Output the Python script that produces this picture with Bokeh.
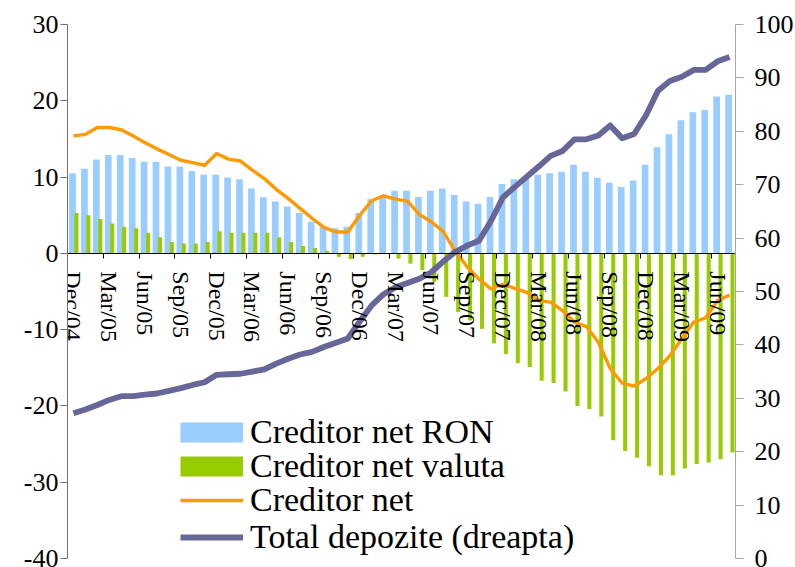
from bokeh.plotting import figure
from bokeh.models import Range1d, LinearAxis, FixedTicker, ColumnDataSource, Legend, LegendItem
from bokeh.transform import dodge
from bokeh.embed import file_html
from bokeh.resources import INLINE

months = ["Dec/04",
          "Jan/05", "Feb/05", "Mar/05", "Apr/05", "May/05", "Jun/05",
          "Jul/05", "Aug/05", "Sep/05", "Oct/05", "Nov/05", "Dec/05",
          "Jan/06", "Feb/06", "Mar/06", "Apr/06", "May/06", "Jun/06",
          "Jul/06", "Aug/06", "Sep/06", "Oct/06", "Nov/06", "Dec/06",
          "Jan/07", "Feb/07", "Mar/07", "Apr/07", "May/07", "Jun/07",
          "Jul/07", "Aug/07", "Sep/07", "Oct/07", "Nov/07", "Dec/07",
          "Jan/08", "Feb/08", "Mar/08", "Apr/08", "May/08", "Jun/08",
          "Jul/08", "Aug/08", "Sep/08", "Oct/08", "Nov/08", "Dec/08",
          "Jan/09", "Feb/09", "Mar/09", "Apr/09", "May/09", "Jun/09",
          "Jul/09"]

creditor_ron = [10.5, 11.1, 12.3, 12.9, 12.9, 12.5, 12.0, 12.0, 11.4, 11.4, 10.8, 10.3, 10.3,
                9.95, 9.7, 8.5, 7.35, 6.8, 6.15, 5.3, 4.15, 3.5, 3.3, 3.5, 5.3,
                7.1, 7.5, 8.2, 8.2, 7.4, 8.2, 8.5, 7.65, 6.8, 6.5, 7.4, 9.1,
                9.7, 10.0, 10.3, 10.5, 10.7, 11.6, 10.7, 9.9, 9.25, 8.7, 9.55, 11.6,
                13.9, 15.6, 17.45, 18.5, 18.8, 20.55, 20.8]

creditor_valuta = [5.3, 5.0, 4.5, 3.9, 3.5, 3.3, 2.7, 2.1, 1.5, 1.3, 1.3, 1.5, 2.9,
                   2.7, 2.7, 2.7, 2.7, 2.1, 1.5, 0.95, 0.7, 0.35, -0.45, -0.75, -0.45,
                   -0.15, 0.05, -0.7, -1.35, -2.2, -3.7, -5.7, -7.7, -8.8, -9.9, -11.8, -13.2,
                   -14.4, -14.9, -16.7, -17.0, -18.1, -20.0, -20.4, -21.4, -24.5, -25.9, -26.8, -27.9,
                   -29.1, -29.1, -28.2, -27.6, -27.4, -27.0, -26.1]

creditor_net = [15.4, 15.6, 16.5, 16.5, 16.2, 15.4, 14.5, 13.7, 12.95, 12.2, 11.9, 11.55, 13.1,
                12.35, 12.1, 10.9, 9.8, 8.4, 7.2, 5.9, 4.6, 3.4, 2.8, 2.8, 5.0,
                6.9, 7.55, 7.1, 6.85, 5.1, 4.15, 2.85, 0.3, -1.75, -3.4, -4.65, -4.05,
                -4.6, -5.1, -6.2, -6.4, -7.5, -9.0, -9.6, -11.65, -15.1, -17.0, -17.4, -16.4,
                -15.1, -13.4, -11.2, -9.0, -8.45, -6.2, -5.45]

total_depozite = [27.2, 27.9, 28.75, 29.7, 30.4, 30.4, 30.7, 30.9, 31.4, 31.9, 32.5, 33.0, 34.4,
                  34.5, 34.6, 35.0, 35.4, 36.5, 37.4, 38.2, 38.7, 39.6, 40.4, 41.2, 44.4,
                  47.4, 49.5, 50.8, 51.6, 52.4, 53.6, 55.6, 57.4, 58.6, 59.5, 63.2, 67.6,
                  69.6, 71.5, 73.4, 75.4, 76.3, 78.5, 78.5, 79.2, 81.1, 78.7, 79.5, 83.0,
                  87.6, 89.4, 90.2, 91.5, 91.5, 93.1, 93.9]

left_ticks = [-40, -30, -20, -10, 0, 10, 20, 30]
right_ticks = [0, 10, 20, 30, 40, 50, 60, 70, 80, 90, 100]
label_step = 3

legend_labels = ["Creditor net RON", "Creditor net valuta", "Creditor net", "Total depozite (dreapta)"]

BLUE = "#99CCFF"
GREEN = "#99CC00"
ORANGE = "#FF9900"
PURPLE = "#666699"
SERIF = "Liberation Serif"

n = len(months)
idx = list(range(n))
src = ColumnDataSource(dict(
    x=idx,
    ron=creditor_ron,
    valuta=creditor_valuta,
    net=creditor_net,
    total=total_depozite,
))

p = figure(frame_width=668, frame_height=534, output_backend="svg", toolbar_location=None,
           x_range=Range1d(-0.5, n - 0.5), y_range=Range1d(-40, 30),
           x_axis_type=None,
           min_border_left=67, min_border_right=40, min_border_top=24, min_border_bottom=9)
p.outline_line_color = None
p.ygrid.visible = False
p.background_fill_color = "white"

p.extra_y_ranges = {"right": Range1d(0, 100)}

# left axis
ya = p.yaxis[0]
ya.ticker = FixedTicker(ticks=left_ticks)
ya.major_label_overrides = {t: str(t) for t in left_ticks}
ya.axis_line_color = "#707070"
ya.major_tick_line_color = "#707070"
ya.minor_tick_line_color = None
ya.major_tick_out = 7
ya.major_tick_in = 0
ya.major_label_standoff = 2
ya.major_label_text_font = SERIF
ya.major_label_text_font_size = "26px"
ya.major_label_text_color = "black"

# right axis
ra = LinearAxis(y_range_name="right", ticker=FixedTicker(ticks=right_ticks))
ra.axis_line_color = "#A6A6A6"
ra.major_tick_line_color = "#A6A6A6"
ra.minor_tick_line_color = None
ra.major_tick_out = 8
ra.major_tick_in = 0
ra.major_label_standoff = 11
ra.major_label_text_font = SERIF
ra.major_label_text_font_size = "26px"
ra.major_label_text_color = "black"
p.add_layout(ra, "right")

# bars
p.vbar(x=dodge("x", -0.08), top="ron", bottom=0, width=0.56, source=src,
       fill_color=BLUE, line_color=None)
p.vbar(x=dodge("x", 0.25), top="valuta", bottom=0, width=0.34, source=src,
       fill_color=GREEN, line_color=None)

# lines
p.line(x="x", y="net", source=src, line_color=ORANGE, line_width=3.4, line_join="round")
p.line(x="x", y="total", source=src, line_color=PURPLE, line_width=5.8, line_join="round",
       y_range_name="right")

# category axis: ticks between categories, at the zero line
tick_axis = LinearAxis(ticker=FixedTicker(ticks=[i - 0.5 for i in range(label_step, n, label_step)]),
                       fixed_location=0)
tick_axis.axis_line_color = "black"
tick_axis.major_tick_line_color = "black"
tick_axis.minor_tick_line_color = None
tick_axis.major_tick_out = 5
tick_axis.major_tick_in = 0
tick_axis.major_label_text_color = None
p.add_layout(tick_axis, "below")

label_axis = LinearAxis(ticker=FixedTicker(ticks=list(range(0, n, label_step))),
                        fixed_location=0)
label_axis.major_label_overrides = {i: months[i] for i in range(0, n, label_step)}
label_axis.axis_line_color = None
label_axis.major_tick_line_color = None
label_axis.minor_tick_line_color = None
label_axis.major_tick_out = 0
label_axis.major_tick_in = 0
label_axis.major_label_standoff = 18
label_axis.major_label_orientation = "vertical"
label_axis.major_label_text_font = SERIF
label_axis.major_label_text_font_size = "24px"
label_axis.major_label_text_color = "black"
p.add_layout(label_axis, "below")

# legend swatches: proxies holding no visible point
nan = float("nan")
sw_ron = p.line(x=[nan], y=[nan], line_color=BLUE, line_width=20, line_cap="butt")
sw_val = p.line(x=[nan], y=[nan], line_color=GREEN, line_width=20, line_cap="butt")
sw_net = p.line(x=[nan], y=[nan], line_color=ORANGE, line_width=3.4)
sw_tot = p.line(x=[nan], y=[nan], line_color=PURPLE, line_width=5.8)
swatches = [sw_ron, sw_val, sw_net, sw_tot]

# one legend per row, to reproduce the tight row pitch of the original
row_offsets = [107, 73, 39, 2]   # px above the frame bottom
for label, sw, off in zip(legend_labels, swatches, row_offsets):
    lg = Legend(items=[LegendItem(label=label, renderers=[sw])],
                location=(113, off), glyph_width=63, glyph_height=22,
                label_standoff=7, label_text_font=SERIF, label_text_font_size="34px",
                label_text_color="black",
                spacing=0, padding=0, margin=0, border_line_color=None,
                background_fill_alpha=0)
    p.add_layout(lg)

open("out.html", "w").write(file_html(p, INLINE))
